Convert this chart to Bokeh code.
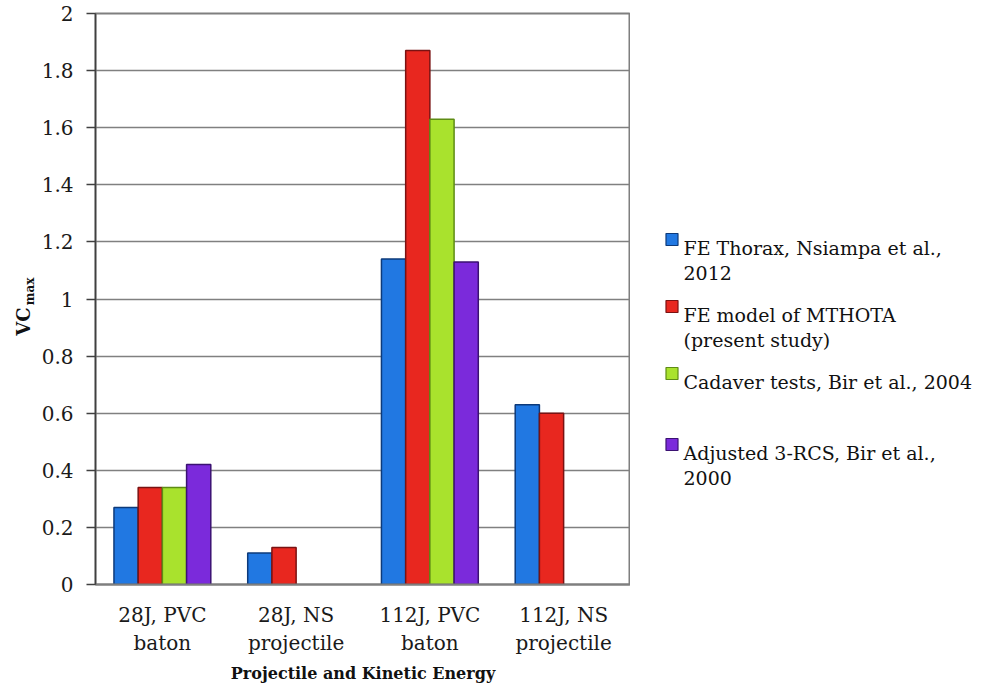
import math
import numpy as np
from bokeh.plotting import figure
from bokeh.models import ColumnDataSource, FactorRange, Range1d, FixedTicker
from bokeh.transform import dodge
from bokeh.layouts import row
from bokeh.embed import file_html
from bokeh.resources import INLINE
from bokeh.core.properties import value

# ---------------- data ----------------
categories = ["28J, PVC\nbaton", "28J, NS\nprojectile", "112J, PVC\nbaton", "112J, NS\nprojectile"]
fe_thorax = [0.27, 0.11, 1.14, 0.63]
fe_mthota = [0.34, 0.13, 1.87, 0.60]
cadaver = [0.34, np.nan, 1.63, np.nan]
adjusted_rcs = [0.42, np.nan, 1.13, np.nan]
series_names = [
    "FE Thorax, Nsiampa et al.,\n2012",
    "FE model of MTHOTA\n(present study)",
    "Cadaver tests, Bir et al., 2004",
    "Adjusted 3-RCS, Bir et al.,\n2000",
]
y_ticks = [0, 0.2, 0.4, 0.6, 0.8, 1, 1.2, 1.4, 1.6, 1.8, 2]
y_tick_labels = ["0", "0.2", "0.4", "0.6", "0.8", "1", "1.2", "1.4", "1.6", "1.8", "2"]
x_title = "Projectile and Kinetic Energy"
y_title_main = "VC"
y_title_sub = "max"

# ---------------- layout / styles ----------------
fills = ["#2178E2", "#E8271F", "#A9E22D", "#7B2ADB"]
edges = ["#0D3A7A", "#7A1212", "#5E8C14", "#3B1272"]
FONT = "DejaVu Serif"
bar_w = 0.181
offsets = [-1.5 * bar_w, -0.5 * bar_w, 0.5 * bar_w, 1.5 * bar_w]

FRAME_TOP, FRAME_BOTTOM = 13, 584          # page pixels
FRAME_H = FRAME_BOTTOM - FRAME_TOP
BORDER_BOTTOM = 685 - FRAME_BOTTOM
TITLE_W = 37                                # left panel for y title
MAIN_BL = 95 - TITLE_W                      # border left of main frame
FRAME_W = 535
LEG_X0 = 95 + FRAME_W                       # page x where legend panel starts
LEG_W = 995 - LEG_X0

def side_panel(x0, w):
    f = figure(frame_width=w, frame_height=FRAME_H,
               x_range=Range1d(x0, x0 + w), y_range=Range1d(FRAME_BOTTOM, FRAME_TOP),
               output_backend="svg", toolbar_location=None,
               min_border_left=0, min_border_right=0,
               min_border_top=FRAME_TOP, min_border_bottom=BORDER_BOTTOM,
               x_axis_location=None, y_axis_location=None)
    f.grid.visible = False
    f.outline_line_color = None
    f.background_fill_color = "white"
    f.border_fill_color = "white"
    return f

# ---------------- main chart ----------------
src = ColumnDataSource(dict(cat=categories, s0=fe_thorax, s1=fe_mthota, s2=cadaver, s3=adjusted_rcs))

p = figure(
    frame_width=FRAME_W, frame_height=FRAME_H,
    x_range=FactorRange(*categories, range_padding=0, factor_padding=0),
    y_range=Range1d(0, 2),
    output_backend="svg", toolbar_location=None,
    min_border_left=MAIN_BL, min_border_right=0,
    min_border_top=FRAME_TOP, min_border_bottom=BORDER_BOTTOM,
)
p.background_fill_color = "white"
p.border_fill_color = "white"
p.outline_line_color = "#7f7f7f"
p.outline_line_width = 2

for i, key in enumerate(["s0", "s1", "s2", "s3"]):
    p.vbar(x=dodge("cat", offsets[i], range=p.x_range), top=key, width=bar_w, bottom=0,
           source=src, fill_color=fills[i], line_color=edges[i], line_width=1.5)

p.xgrid.grid_line_color = None
p.ygrid.ticker = FixedTicker(ticks=y_ticks)
p.ygrid.grid_line_color = "#808080"
p.ygrid.grid_line_width = 1.5

p.yaxis.ticker = FixedTicker(ticks=y_ticks)
p.yaxis.major_label_overrides = dict(zip(y_ticks, y_tick_labels))
p.yaxis.axis_line_color = "#404040"
p.yaxis.axis_line_width = 1.5
p.yaxis.major_tick_line_color = "#404040"
p.yaxis.major_tick_line_width = 1.5
p.yaxis.major_tick_out = 9
p.yaxis.major_tick_in = 0
p.yaxis.minor_tick_line_color = None
p.yaxis.major_label_standoff = 13
p.yaxis.major_label_text_font = FONT
p.yaxis.major_label_text_font_size = "20px"
p.yaxis.major_label_text_color = "#1a1a1a"

p.xaxis.axis_line_color = "#7f7f7f"
p.xaxis.axis_line_width = 2
p.xaxis.major_tick_line_color = None
p.xaxis.minor_tick_line_color = None
p.xaxis.major_label_standoff = 12
p.xaxis.major_label_text_font = FONT
p.xaxis.major_label_text_font_size = "20px"
p.xaxis.major_label_text_color = "#1a1a1a"
p.xaxis.axis_label = x_title
p.xaxis.axis_label_text_font = FONT
p.xaxis.axis_label_text_font_style = "bold"
p.xaxis.axis_label_text_font_size = "16px"
p.xaxis.axis_label_text_color = "#111111"
p.xaxis.axis_label_standoff = 6

# ---------------- y title panel (left) ----------------
yt = side_panel(0, TITLE_W)
yt.text(x=[22.5], y=[321], text=[y_title_main], angle=math.pi / 2,
        text_align="center", text_baseline="middle",
        text_font=value(FONT), text_font_style="bold", text_font_size="18px", text_color="#111111")
yt.text(x=[29], y=[291], text=[y_title_sub], angle=math.pi / 2,
        text_align="center", text_baseline="middle",
        text_font=value(FONT), text_font_style="bold", text_font_size="12px", text_color="#111111")

# ---------------- legend panel (right) ----------------
lg = side_panel(LEG_X0, LEG_W)
first_baselines = [247, 314, 381, 452]
line_h = 25
for name, fc, ec, b in zip(series_names, fills, edges, first_baselines):
    lines = name.split("\n")
    lg.rect(x=[671.5], y=[b - 8], width=12, height=12, fill_color=fc, line_color=ec, line_width=1.2)
    lg.text(x=[683] * len(lines), y=[b + k * line_h for k in range(len(lines))], text=lines,
            text_font=value(FONT), text_font_size="19px", text_baseline="alphabetic",
            text_color="#111111")

layout = row(yt, p, lg)
open("out.html", "w").write(file_html(layout, INLINE))
